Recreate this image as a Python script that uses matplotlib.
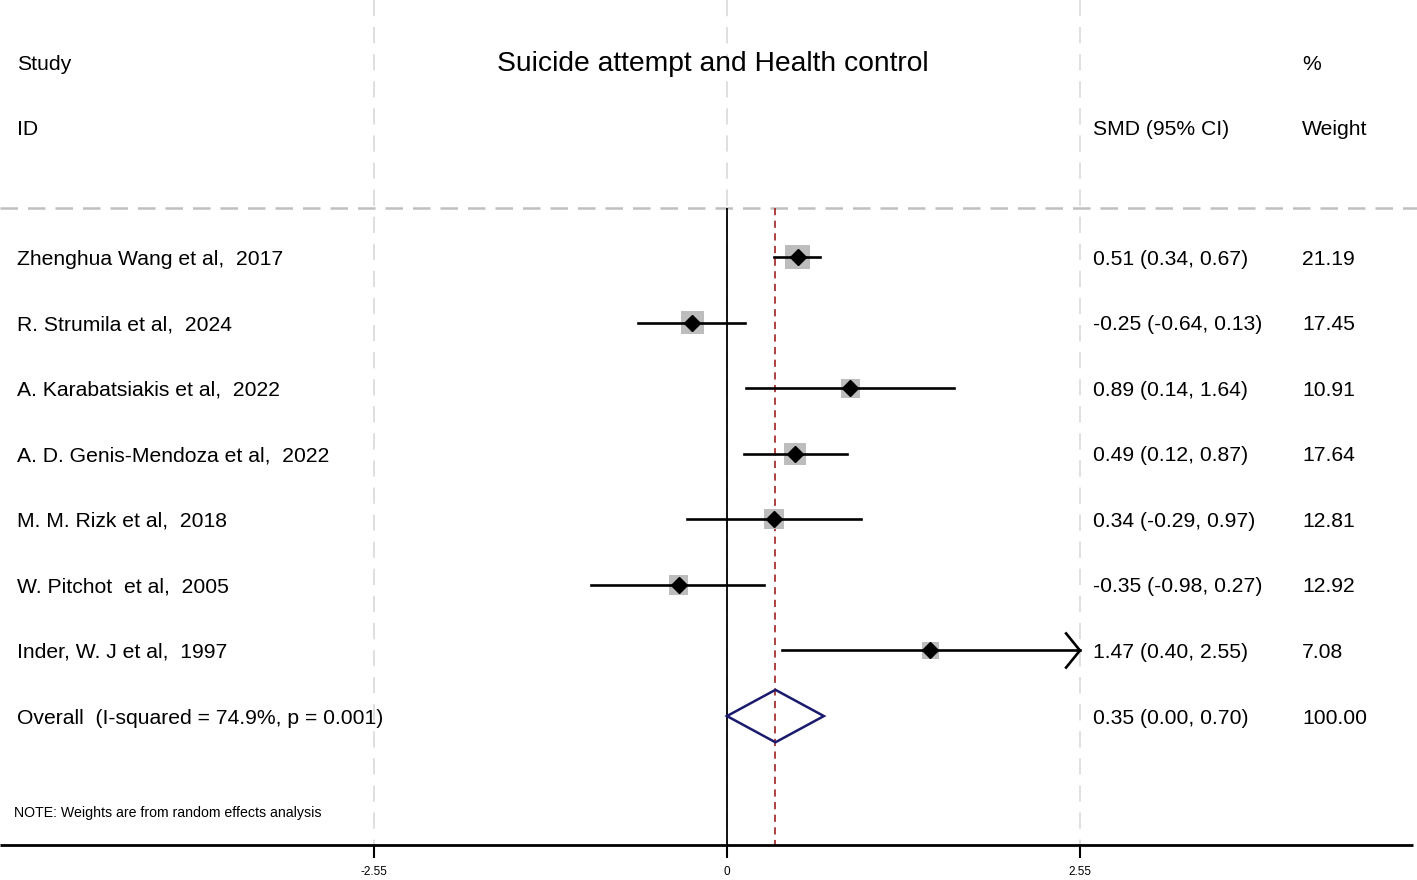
import matplotlib.pyplot as plt
from matplotlib.patches import Polygon

plt.rcParams['font.family'] = ['Liberation Sans', 'DejaVu Sans']

# Study data
studies = ["Zhenghua Wang et al,  2017",
           "R. Strumila et al,  2024",
           "A. Karabatsiakis et al,  2022",
           "A. D. Genis-Mendoza et al,  2022",
           "M. M. Rizk et al,  2018",
           "W. Pitchot  et al,  2005",
           "Inder, W. J et al,  1997"]
smd = [0.51, -0.25, 0.89, 0.49, 0.34, -0.35, 1.47]
lower = [0.34, -0.64, 0.14, 0.12, -0.29, -0.98, 0.40]
upper = [0.67, 0.13, 1.64, 0.87, 0.97, 0.27, 2.55]
weights = [21.19, 17.45, 10.91, 17.64, 12.81, 12.92, 7.08]

overall_smd = 0.35
overall_lo = 0.00
overall_hi = 0.70
i_squared = "74.9%"
p_value = "0.001"

ticks = [-2.55, 0, 2.55]
tick_labels = ["-2.55", "0", "2.55"]

fig = plt.figure(figsize=(14.17, 8.8), dpi=100)
ax = fig.add_axes([0, 0, 1, 1])
ax.set_xlim(-5.252, 4.985)
ax.set_ylim(9.50, -3.92)
ax.axis('off')

n = len(studies)
rows = list(range(n))
overall_row = n
axis_y = 8.97
head_y = -0.75
x_max = ticks[-1]

# background reference lines
ax.vlines(ticks, -3.92, axis_y, colors='#dcdcdc', linestyles=(0, (9, 6)), lw=1.3, zorder=0)
ax.axhline(head_y, color='#c0c0c0', ls=(0, (7, 4)), lw=1.8, zorder=0)
ax.vlines(0, head_y, axis_y, colors='black', lw=1.3, zorder=2)
ax.vlines(overall_smd, head_y, axis_y, colors='#a83232', linestyles=(0, (4, 3)), lw=1.3, zorder=2)

# weighted boxes, CIs and point estimates
ax.scatter(smd, rows, s=[12 * w + 50 for w in weights], marker='s', color='#bdbdbd',
           linewidths=0, zorder=3)
for r, lo, hi in zip(rows, lower, upper):
    ax.plot([lo, min(hi, x_max)], [r, r], color='black', lw=1.9, zorder=4)
    if hi >= x_max:
        ax.plot([x_max - 0.1, x_max, x_max - 0.1], [r - 0.26, r, r + 0.26],
                color='black', lw=1.9, zorder=4)
ax.plot(smd, rows, 'D', color='black', ms=8, zorder=5)

# overall diamond
dia = Polygon([[overall_lo, overall_row], [overall_smd, overall_row - 0.4],
               [overall_hi, overall_row], [overall_smd, overall_row + 0.4]],
              closed=True, fill=False, edgecolor='#1a1a6e', lw=1.8, zorder=5)
ax.add_patch(dia)

# text columns
fs = 15.2
dy = 0.03
x_study = -5.129
x_ci = 2.644
x_wt = 4.154
ax.text(x_study, -2.97 + dy, "Study", fontsize=fs, va='center')
ax.text(x_study, -1.98 + dy, "ID", fontsize=fs, va='center')
ax.text(-0.105, -2.97 + dy, "Suicide attempt and Health control", fontsize=20.3,
        ha='center', va='center')
ax.text(x_wt, -2.97 + dy, "%", fontsize=fs, va='center')
ax.text(x_ci, -1.98 + dy, "SMD (95% CI)", fontsize=fs, va='center')
ax.text(x_wt, -1.98 + dy, "Weight", fontsize=fs, va='center')

for r, name, e, lo, hi, w in zip(rows, studies, smd, lower, upper, weights):
    ax.text(x_study, r + dy, name, fontsize=fs, va='center')
    ax.text(x_ci, r + dy, f"{e:.2f} ({lo:.2f}, {hi:.2f})", fontsize=fs, va='center')
    ax.text(x_wt, r + dy, f"{w:.2f}", fontsize=fs, va='center')

ax.text(x_study, overall_row + dy, f"Overall  (I-squared = {i_squared}, p = {p_value})",
        fontsize=fs, va='center')
ax.text(x_ci, overall_row + dy, f"{overall_smd:.2f} ({overall_lo:.2f}, {overall_hi:.2f})",
        fontsize=fs, va='center')
ax.text(x_wt, overall_row + dy, f"{sum(weights):.2f}", fontsize=fs, va='center')

ax.text(-5.151, 8.48, "NOTE: Weights are from random effects analysis", fontsize=10.2,
        va='center')

# bottom axis
ax.plot([-5.252, 4.955], [axis_y, axis_y], color='black', lw=2.0, solid_capstyle='butt')
ax.vlines(ticks, axis_y, axis_y + 0.2, colors='black', lw=1.5)
for t, lab in zip(ticks, tick_labels):
    ax.text(t, 9.38, lab, fontsize=8.5, ha='center', va='center')

fig.savefig('out.png', dpi=100)
